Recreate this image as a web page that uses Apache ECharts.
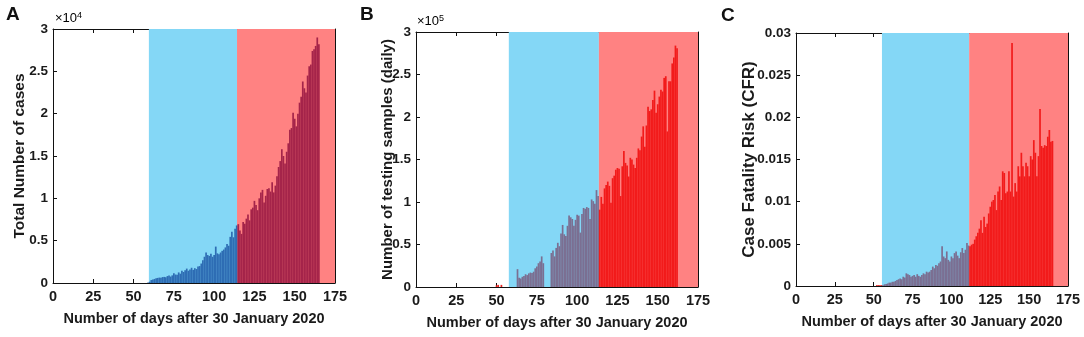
<!DOCTYPE html>
<html>
<head>
<meta charset="utf-8">
<script src="https://cdn.jsdelivr.net/npm/echarts@6/dist/echarts.min.js"></script>
<style>
  html, body { margin: 0; padding: 0; background: #fff; }
  #chart { width: 1084px; height: 337px; }
</style>
</head>
<body>
<div id="chart"></div>
<script>
// A: total cases per day (first bar on day 59)
const casesStartDay = 59
const casesValues = [
  50, 150, 350, 420, 480, 560, 600, 640, 620, 700,
  720, 680, 820, 880, 760, 900, 1150, 1000, 980, 1250,
  1100, 1450, 1300, 1500, 1700, 1450, 1600, 1800, 1550, 1750,
  1650, 1950, 2000, 2300, 2700, 3100, 3600, 3300, 3200, 3450,
  3100, 3300, 4300, 3500, 3400, 3600, 3800, 3950, 4200, 4600,
  4400, 5450, 6050, 5400, 6400, 6800, 6950, 6200, 5800, 7200,
  7000, 7600, 8100, 7400, 8700, 8900, 9700, 9200, 8600, 10000,
  10700, 11000, 9500, 10300, 11100, 11200, 10800, 11900, 10700, 11500,
  12600, 13700, 14400, 15800, 15000, 14100, 15500, 16500, 18100, 18300,
  20100, 19400, 18500, 20000, 21300, 22000, 23800, 23000, 22500, 24500,
  25600, 25800, 27400, 27600, 28000, 29000, 28200
]
// B: testing samples per day (first bar on day 50)
const testsStartDay = 50
const testsValues = [
  2000, 2500, 0, 2500, 0, 0, 0, 0, 0, 0,
  0, 0, 0, 21000, 11000, 10000, 12000, 13000, 15000, 14000,
  16000, 17000, 16500, 18000, 22000, 24000, 28000, 30000, 36000, 28000,
  0, 0, 0, 0, 40000, 43000, 36000, 46000, 52000, 48000,
  63000, 73000, 62000, 60000, 72000, 84000, 82000, 80000, 72000, 79000,
  85000, 84000, 64000, 86000, 93000, 92000, 94000, 93000, 80000, 103000,
  101000, 98000, 114000, 107000, 91000, 106000, 98000, 116000, 120000, 124000,
  119000, 99000, 128000, 131000, 138000, 140000, 139000, 107000, 142000, 160000,
  146000, 143000, 130000, 152000, 150000, 144000, 140000, 152000, 163000, 161000,
  177000, 189000, 165000, 190000, 212000, 207000, 209000, 220000, 231000, 205000,
  215000, 224000, 232000, 230000, 246000, 248000, 183000, 242000, 242000, 263000,
  270000, 284000, 281000
]
// C: case fatality risk per day (first bar on day 52)
const cfrStartDay = 52
const cfrValues = [
  0.0001, 0.0001, 0.0001, 0.0001, 0.0001, 0.0002, 0.00025, 0.0003,
  0.0004, 0.0004, 0.0005, 0.0005, 0.0006, 0.0007, 0.0008, 0.0009, 0.0008, 0.0011,
  0.0010, 0.0015, 0.0014, 0.0013, 0.0011, 0.0012, 0.0013, 0.0011, 0.0014, 0.0012,
  0.0011, 0.0013, 0.0015, 0.0014, 0.0017, 0.0016, 0.0017, 0.0019, 0.0023, 0.0021,
  0.0025, 0.0024, 0.0027, 0.0029, 0.0047, 0.0035, 0.0033, 0.0041, 0.0031, 0.0029,
  0.0035, 0.0033, 0.0039, 0.0041, 0.0036, 0.0033, 0.0040, 0.0045, 0.0039, 0.0043,
  0.0051, 0.0048, 0.0047, 0.0049, 0.0050, 0.0055, 0.0059, 0.0063, 0.0068, 0.0078,
  0.0063, 0.0082, 0.0070, 0.0074, 0.0086, 0.0094, 0.0100, 0.0102, 0.0108, 0.0090,
  0.0112, 0.0118, 0.0102, 0.0136, 0.0134, 0.0110, 0.0112, 0.0136, 0.0112, 0.0288,
  0.0106, 0.0122, 0.0112, 0.0142, 0.0130, 0.0158, 0.0142, 0.0130, 0.0146, 0.0142,
  0.0130, 0.0154, 0.0150, 0.0173, 0.0158, 0.0130, 0.0154, 0.0210, 0.0166, 0.0164,
  0.0167, 0.0166, 0.0177, 0.0185, 0.0171, 0.0172
]
// phase boundaries (days): blue phase start, red phase start, end
const casesPhases = [59.5, 114.2, 175]
const testsPhases = [57.6, 113.5, 175]
const cfrPhases = [55.3, 111.4, 175]

const casesTicks = ['0', '0.5', '1', '1.5', '2', '2.5', '3']
const testsTicks = ['0', '0.5', '1', '1.5', '2', '2.5', '3']
const cfrTicks = ['0', '0.005', '0.01', '0.015', '0.02', '0.025', '0.03']

const xTitle = 'Number of days after 30 January 2020'
const FONT = '"Liberation Sans", Arial, sans-serif'

const panels = [
  {
    start: casesStartDay, values: casesValues, phases: casesPhases, ticks: casesTicks,
    max: 30000, step: 5000, name: 'Total Number of cases', nameGap: 25, nameSize: 15.5,
    grid: { left: 53, top: 29, width: 282, height: 254 },
    colors: ['#2e6db4', '#2e6db4', '#a5244a']
  },
  {
    start: testsStartDay, values: testsValues, phases: testsPhases, ticks: testsTicks,
    max: 300000, step: 50000, name: 'Number of testing samples (daily)', nameGap: 20.5, nameSize: 15,
    grid: { left: 416, top: 32, width: 282, height: 255 },
    colors: ['#e8231f', '#7b6f92', '#f21b1b']
  },
  {
    start: cfrStartDay, values: cfrValues, phases: cfrPhases, ticks: cfrTicks,
    max: 0.03, step: 0.005, name: 'Case Fatality Risk (CFR)', nameGap: 38, nameSize: 17,
    grid: { left: 796, top: 33, width: 272, height: 253 },
    colors: ['#e8231f', '#7b6f92', '#f21b1b']
  }
]

const xLabelStyle = { color: '#1a1a1a', fontFamily: FONT, fontWeight: 'bold', fontSize: 14.5 }
const yLabelStyle = { color: '#1a1a1a', fontFamily: FONT, fontWeight: 'bold', fontSize: 13.5 }
const lineStyle = { color: '#111', width: 1 }

const grid = []
const xAxis = []
const yAxis = []
const series = []

panels.forEach((p, k) => {
  grid.push(p.grid)
  // bottom + top x axes (top is just the frame with inward ticks)
  ;['bottom', 'top'].forEach(pos => {
    xAxis.push({
      type: 'value', gridIndex: k, position: pos, min: 0, max: 175, interval: 25,
      axisLine: { show: true, onZero: false, lineStyle },
      axisTick: { show: true, inside: true, length: 4, lineStyle },
      axisLabel: pos === 'bottom' ? Object.assign({ margin: 6 }, xLabelStyle) : { show: false },
      splitLine: { show: false },
      name: pos === 'bottom' ? xTitle : '',
      nameLocation: 'middle', nameGap: 28, nameMoveOverlap: false,
      nameTextStyle: { color: '#1a1a1a', fontFamily: FONT, fontWeight: 'bold', fontSize: 14.5 }
    })
  })
  ;['left', 'right'].forEach(pos => {
    yAxis.push({
      type: 'value', gridIndex: k, position: pos, min: 0, max: p.max, interval: p.step,
      axisLine: { show: true, onZero: false, lineStyle },
      axisTick: { show: true, inside: true, length: 4, lineStyle },
      axisLabel: pos === 'left'
        ? Object.assign({ margin: 5, formatter: (v, i) => p.ticks[i] }, yLabelStyle)
        : { show: false },
      splitLine: { show: false },
      name: pos === 'left' ? p.name : '',
      nameLocation: 'middle', nameGap: p.nameGap, nameRotate: 90, nameMoveOverlap: false,
      nameTextStyle: { color: '#1a1a1a', fontFamily: FONT, fontWeight: 'bold', fontSize: p.nameSize }
    })
  })

  // phase bands
  series.push({
    type: 'line', xAxisIndex: 2 * k, yAxisIndex: 2 * k, z: 1, silent: true,
    data: [[0, 0]], symbol: 'none', lineStyle: { opacity: 0 },
    markArea: {
      silent: true,
      data: [
        [{ xAxis: p.phases[0], itemStyle: { color: '#84d7f6' } }, { xAxis: p.phases[1] }],
        [{ xAxis: p.phases[1], itemStyle: { color: '#ff8282' } }, { xAxis: p.phases[2] }]
      ]
    }
  })

  // daily bars, coloured by the phase they fall in
  series.push({
    type: 'bar', xAxisIndex: 2 * k, yAxisIndex: 2 * k, z: 3, barWidth: 1.7,
    data: p.values.map((v, i) => {
      const day = p.start + i
      const c = day < p.phases[0] ? p.colors[0] : day < p.phases[1] ? p.colors[1] : p.colors[2]
      return { value: [day, v], itemStyle: { color: c } }
    })
  })
})

const letterStyle = { fill: '#111', font: 'bold 19px ' + FONT }
const expRich = {
  b: { fontFamily: FONT, fontSize: 13, color: '#333' },
  s: { fontFamily: FONT, fontSize: 9, color: '#333', verticalAlign: 'top', padding: [0, 0, 6, 0] }
}

const chart = echarts.init(document.getElementById('chart'))
chart.setOption({
  animation: false,
  backgroundColor: '#fff',
  grid, xAxis, yAxis, series,
  graphic: [
    { type: 'text', left: 6, top: 5, style: Object.assign({ text: 'A' }, letterStyle) },
    { type: 'text', left: 360, top: 5, style: Object.assign({ text: 'B' }, letterStyle) },
    { type: 'text', left: 721, top: 6, style: Object.assign({ text: 'C' }, letterStyle) },
    { type: 'text', left: 55, top: 11, style: { text: '{b|×10}{s|4}', rich: expRich } },
    { type: 'text', left: 417, top: 14, style: { text: '{b|×10}{s|5}', rich: expRich } }
  ]
})
</script>
</body>
</html>
